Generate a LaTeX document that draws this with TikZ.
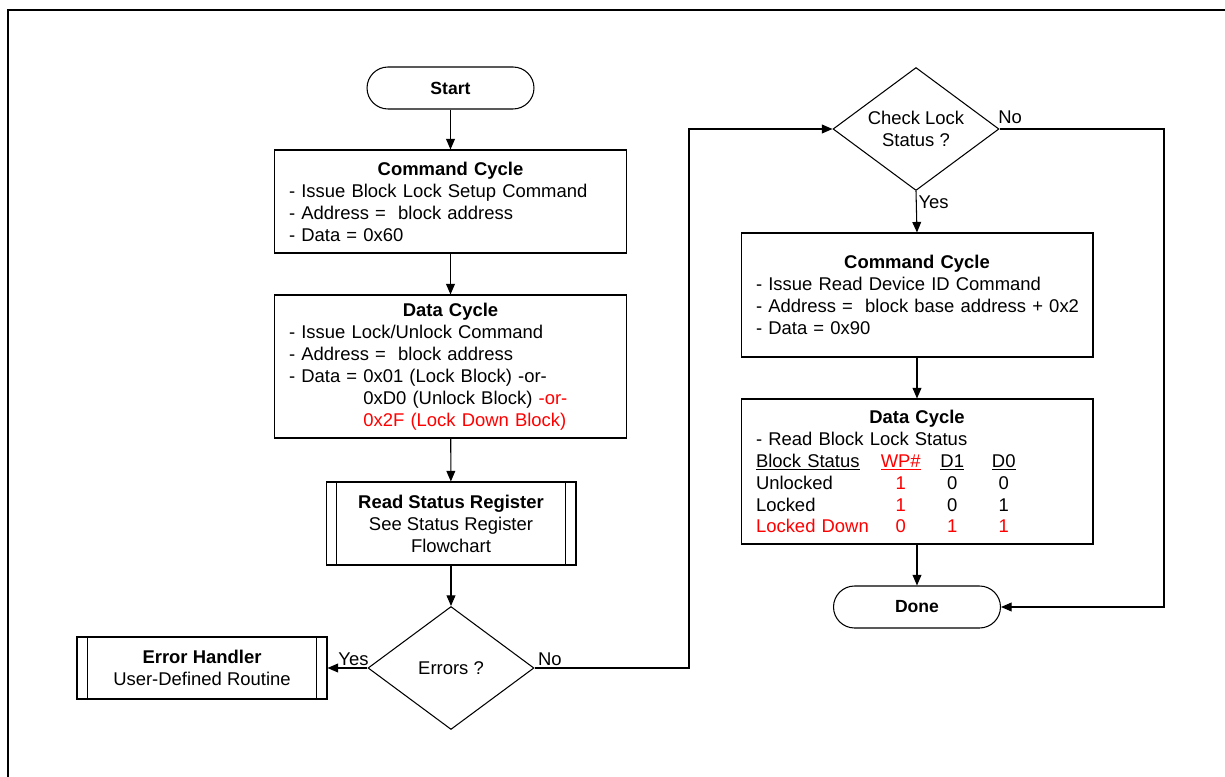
\documentclass[tikz,border=0pt]{standalone}
\usepackage{fontspec}
\setmainfont{Liberation Sans}
\usepackage{tikz}
\usetikzlibrary{arrows.meta,positioning,calc,shapes.geometric}
\definecolor{lockred}{RGB}{255,0,0}
\tikzset{
    flowline/.style={line width=0.6pt},
    flowarrow/.style={flowline, -{Triangle[length=6pt,width=5pt]}},
    terminal/.style={draw, flowline, rounded corners=0.42cm, minimum width=3.34cm, minimum height=0.84cm, font=\bfseries},
    cyclebox/.style={draw, flowline, inner xsep=0.3cm, inner ysep=0pt},
    subproc/.style={draw, flowline, align=center, inner sep=0pt,
        path picture={
            \draw[flowline] ([xshift=0.21cm]path picture bounding box.north west) -- ([xshift=0.21cm]path picture bounding box.south west);
            \draw[flowline] ([xshift=-0.21cm]path picture bounding box.north east) -- ([xshift=-0.21cm]path picture bounding box.south east);
        }},
    decision/.style={draw, flowline, diamond, aspect=1.35, inner sep=0pt, align=center, minimum width=3.32cm, minimum height=2.46cm},
    flowlabel/.style={inner sep=1pt}
}
\newcommand{\colcell}[2]{\makebox[#1][c]{#2}}

\begin{document}
\begin{tikzpicture}[x=0.02cm, y=-0.02cm, font=\fontsize{10.5}{12.5}\selectfont]
    \useasboundingbox (0,0) rectangle (1225,777);
    \draw[line width=1.3pt] (8,777) -- (8,10) -- (1225,10);

    % left column
    \node[terminal] (start) at (450.5,88) {Start};
    \node[cyclebox, text width=6.46cm, minimum height=2.06cm] (cmdA) at (450.5,201.5) {%
        {\centering\textbf{Command Cycle}\par}\raggedright
        - Issue Block Lock Setup Command\\
        - Address = \ block address\\
        - Data = 0x60};
    \node[cyclebox, text width=6.46cm, minimum height=2.86cm] (dataA) at (450.5,366.5) {%
        {\centering\textbf{Data Cycle}\par}\raggedright
        - Issue Lock/Unlock Command\\
        - Address = \ block address\\
        - Data = 0x01 (Lock Block) -or-\\
        \phantom{- Data = }0xD0 (Unlock Block) \textcolor{lockred}{-or-}\\
        \phantom{- Data = }\textcolor{lockred}{0x2F (Lock Down Block)}};
    \node[subproc, minimum width=5.0cm, minimum height=1.66cm] (rsr) at (451,523.5)
        {\textbf{Read Status Register}\\See Status Register\\Flowchart};
    \node[decision] (errors) at (451,668) {Errors ?};
    \node[subproc, minimum width=5.0cm, minimum height=1.24cm] (errh) at (202,668)
        {\textbf{Error Handler}\\User-Defined Routine};

    % right column
    \node[decision] (chk) at (916,129) {Check Lock\\Status ?};
    \node[cyclebox, text width=6.44cm, minimum height=2.48cm] (cmdB) at (917,295) {%
        {\centering\textbf{Command Cycle}\par}\raggedright
        - Issue Read Device ID Command\\
        \mbox{- Address = \ block base address + 0x2}\\
        - Data = 0x90};
    \node[cyclebox, text width=6.44cm, minimum height=2.9cm] (dataB) at (917,471.5) {%
        {\centering\textbf{Data Cycle}\par}\raggedright
        - Read Block Lock Status\\
        \makebox[2.38cm][l]{\underline{Block Status}}\colcell{1.03cm}{\textcolor{lockred}{\underline{WP\#}}}\colcell{1.03cm}{\underline{D1}}\colcell{1.03cm}{\underline{D0}}\\
        \makebox[2.38cm][l]{Unlocked}\colcell{1.03cm}{\textcolor{lockred}{1}}\colcell{1.03cm}{0}\colcell{1.03cm}{0}\\
        \makebox[2.38cm][l]{Locked}\colcell{1.03cm}{\textcolor{lockred}{1}}\colcell{1.03cm}{0}\colcell{1.03cm}{1}\\
        \color{lockred}\makebox[2.38cm][l]{Locked Down}\colcell{1.03cm}{0}\colcell{1.03cm}{1}\colcell{1.03cm}{1}};
    \node[terminal] (done) at (917,607) {Done};

    \coordinate (jogL) at (689,668);
    \coordinate (jogR) at (1164,129);

    \draw[flowarrow] (start) -- (cmdA);
    \draw[flowarrow] (cmdA) -- (dataA);
    \draw[flowarrow] (dataA) -- (rsr);
    \draw[flowarrow] (rsr) -- (errors);
    \draw[flowarrow] (errors.west) -- node[flowlabel, above, pos=0.35] {Yes} (errh.east);
    \draw[flowarrow] (errors.east) -- node[flowlabel, above, pos=0.1] {No} (jogL) |- (chk.west);
    \draw[flowarrow] (chk.south) -- node[flowlabel, right, pos=0.26] {Yes} (cmdB.north);
    \draw[flowarrow] (cmdB) -- (dataB);
    \draw[flowarrow] (dataB) -- (done);
    \draw[flowarrow] (chk.east) -- node[flowlabel, above right, pos=0, xshift=-2pt, yshift=2pt] {No} (jogR) |- (done.east);
\end{tikzpicture}
\end{document}
